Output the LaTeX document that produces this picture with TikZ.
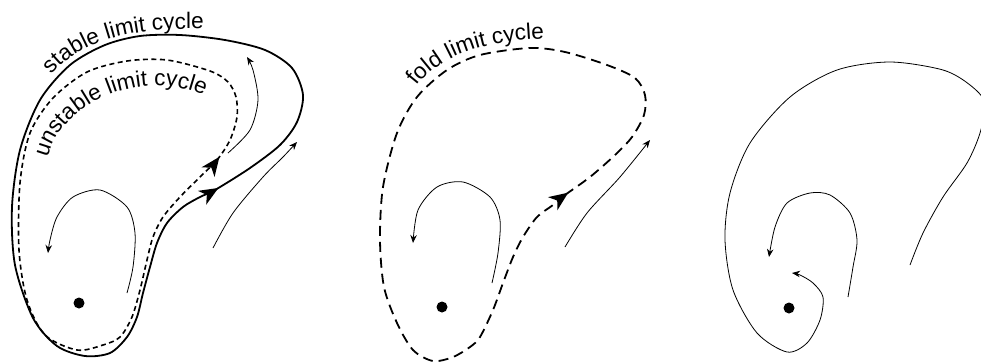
\documentclass[tikz,border=0pt]{standalone}
\usepackage{fontspec}
\setmainfont{Liberation Sans}
\usetikzlibrary{arrows.meta,decorations.markings,decorations.text}
\newcommand\lblfont{\fontsize{22.5}{26}\selectfont}

\begin{document}
\begin{tikzpicture}[x=1pt,y=-1pt,
  orbit/.style={line width=0.8pt,-{Stealth[length=8pt,width=6.5pt]}},
  cycarrow/.style={postaction={decorate},decoration={markings,mark=at position 4pt with {\arrow{Stealth[length=19pt,width=16pt,inset=5.5pt]}}}},
  stablecyc/.style={line width=1.8pt,cycarrow},
  unstablecyc/.style={line width=1.6pt,dash pattern=on 5pt off 3.5pt,cycarrow},
  foldcyc/.style={line width=1.8pt,dash pattern=on 10pt off 6pt,cycarrow},
  fixpt/.style={circle,fill,inner sep=0pt,minimum size=11pt},
  cyclbl/.style={decorate,decoration={text along path,text align=left,text={#1}}}]
\useasboundingbox (0,0) rectangle (981,362);
\clip (0,0) rectangle (981,362);

% stable and unstable cycles
\draw[stablecyc] plot[smooth cycle] coordinates {(200,197) (215,190) (250,168) (280,145) (297,122) (303,95) (292,68) (265,50) (225,40) (180,35) (140,36) (105,45) (70,65) (40,100) (20,150) (12,207) (15,265) (33,318) (57,346) (85,356) (110,353) (127,337) (137,317) (143,293) (150,267) (157,243) (167,223) (183,207)};
\draw[unstablecyc] plot[smooth cycle] coordinates {(200,177) (217,160) (230,140) (237,117) (236,97) (228,82) (210,71) (167,60) (127,61) (87,72) (53,98) (30,133) (20,183) (19,250) (27,300) (45,335) (77,350) (103,345) (120,337) (132,317) (140,290) (147,260) (153,237) (163,217) (180,197)};
\path[cyclbl={|\lblfont|stable limit cycle}] (52,75) .. controls (80,40) and (137,24) .. (225,30);
\path[cyclbl={|\lblfont|unstable limit cycle}] (48,158) .. controls (62,95) and (172,52) .. (238,120);
\node[fixpt] (eqA) at (79,303) {};
\draw[orbit] plot[smooth] coordinates {(127,293) (133,267) (135,233) (127,207) (100,190) (73,197) (57,217) (50,240) (48,253)};
\draw[orbit] plot[smooth] coordinates {(228,153) (250,130) (258,100) (253,70) (247,57)};
\draw[orbit] plot[smooth] coordinates {(213,248) (233,213) (263,177) (283,157) (297,142)};

% fold
\draw[foldcyc] plot[smooth cycle] coordinates {(553,205) (565,195) (590,177) (615,155) (632,137) (644,115) (645,95) (635,78) (607,65) (565,52) (530,48) (480,55) (447,70) (417,97) (397,133) (383,187) (380,240) (384,287) (397,323) (413,350) (433,361) (453,357) (470,347) (480,337) (493,310) (503,283) (513,257) (523,237) (537,217)};
\path[cyclbl={|\lblfont|fold limit cycle}] (417,86) .. controls (442,53) and (492,37) .. (567,39);
\node[fixpt] (eqB) at (442,307) {};
\draw[orbit] plot[smooth] coordinates {(492,283) (498,253) (500,220) (490,197) (463,182) (437,187) (418,210) (413,243)};
\draw[orbit] plot[smooth] coordinates {(565,247) (587,213) (620,177) (650,140)};

% no cycle
\node[fixpt] (eqC) at (789,308) {};
\draw[orbit] plot[smooth] coordinates {(910,265) (923,233) (943,197) (967,163) (980,133) (985,103) (970,85) (943,70) (890,62) (837,70) (790,97) (750,143) (730,193) (725,240) (733,290) (757,333) (787,352) (807,343) (820,320) (823,297) (813,283) (800,275) (792,273)};
\draw[orbit] plot[smooth] coordinates {(848,297) (853,267) (857,240) (850,213) (830,195) (810,193) (787,203) (775,227) (769,257)};
\end{tikzpicture}
\end{document}
